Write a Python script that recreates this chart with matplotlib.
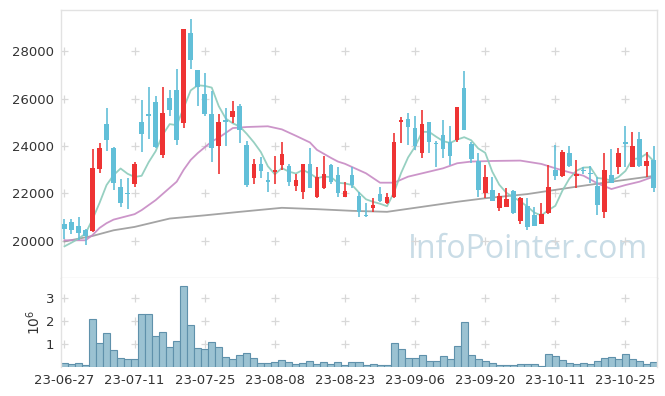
import matplotlib
matplotlib.use("Agg")
import matplotlib.pyplot as plt
import numpy as np
import pandas as pd

# ---------------- data ----------------
opens = [20734, 20790, 20621, 20451, 20423, 23048, 24938, 23922, 22272, 22032,
         22413, 25023, 25362, 25870, 23626, 26039, 26378, 24967, 28748, 27182,
         26209, 25362, 24021, 25108, 25221, 25700, 24050, 22667, 23245, 22568,
         22893, 23203, 23161, 22328, 22074, 23245, 21863, 22244, 23203, 22780,
         21863, 22780, 21890, 21114, 21397, 21975, 21609, 21834, 25009, 25150,
         24769, 23725, 25023, 24120, 24473, 24148, 24261, 26462, 24078, 23358,
         22032, 22145, 21397, 21439, 22102, 20847, 21467, 21086, 20734, 21185,
         22991, 22723, 23697, 22737, 22991, 22822, 22328, 21227, 22780, 23132,
         24162, 23132, 24304, 23161, 23414]
closes = [20494, 20466, 20339, 20212, 23076, 23922, 24233, 22427, 21608, 21961,
          23245, 24487, 25277, 23937, 25404, 25503, 24261, 28918, 27620, 26491,
          25362, 23908, 25009, 25009, 25489, 24684, 22356, 23245, 22963, 22498,
          22977, 23669, 22498, 22568, 23245, 22244, 22681, 22822, 22483, 22032,
          22102, 22356, 21228, 21058, 21510, 21693, 21834, 24163, 25108, 24797,
          23979, 24938, 24148, 24092, 23866, 23598, 25644, 24656, 23443, 22145,
          22681, 21693, 21891, 21764, 21185, 21820, 20593, 20621, 21157, 22286,
          22751, 23767, 23161, 22822, 22963, 22808, 21510, 22991, 22427, 23725,
          24092, 24007, 23161, 23372, 22215]
highs = [20945, 20917, 21016, 20522, 23866, 24120, 25602, 23950, 22610, 22639,
         23344, 25926, 26491, 26124, 26491, 26378, 27253, 28918, 29341, 27200,
         27055, 26307, 25362, 25602, 25912, 25771, 24191, 23443, 23556, 22921,
         23584, 24148, 23245, 22808, 23245, 23908, 23104, 23584, 23245, 23104,
         22497, 23132, 22074, 21580, 21792, 22286, 22004, 24543, 25221, 25390,
         25249, 25531, 25023, 24191, 25108, 24853, 25644, 27154, 24148, 23697,
         23189, 22709, 22032, 22215, 22145, 21863, 21820, 21439, 21580, 23203,
         24050, 23838, 23979, 23414, 23133, 23161, 22709, 23697, 23880, 23908,
         24825, 24585, 24571, 23767, 23979]
lows = [20099, 20282, 20056, 19817, 20395, 22850, 23810, 22145, 21411, 21340,
        22272, 23767, 24289, 23908, 23485, 25277, 24035, 24741, 27224, 25673,
        25249, 23316, 22808, 23979, 24967, 24120, 22286, 22385, 22639, 22074,
        22385, 22991, 22328, 22117, 21750, 22244, 21792, 22187, 22399, 21863,
        21863, 22215, 21016, 21016, 21228, 21651, 21552, 21792, 24120, 24050,
        23838, 23485, 23725, 23133, 23485, 23203, 24176, 24656, 23273, 21863,
        21792, 21693, 21256, 21439, 21157, 20705, 20480, 20621, 20705, 21157,
        22568, 22695, 23133, 22215, 22822, 22427, 21086, 20988, 22427, 22836,
        23132, 23132, 23132, 22709, 22074]
volumes_m = [0.16, 0.12, 0.16, 0.07, 2.07, 1.04, 1.48, 0.74, 0.39, 0.33,
             0.33, 2.29, 2.29, 1.35, 1.52, 0.86, 1.13, 3.52, 1.81, 0.83,
             0.78, 1.09, 0.86, 0.42, 0.33, 0.51, 0.61, 0.38, 0.16, 0.16,
             0.22, 0.30, 0.22, 0.13, 0.17, 0.26, 0.13, 0.22, 0.12, 0.22,
             0.09, 0.22, 0.22, 0.09, 0.13, 0.09, 0.09, 1.04, 0.78, 0.38,
             0.38, 0.51, 0.26, 0.26, 0.46, 0.35, 0.91, 1.96, 0.51, 0.35,
             0.26, 0.16, 0.09, 0.09, 0.09, 0.13, 0.13, 0.13, 0.04, 0.55,
             0.48, 0.30, 0.16, 0.13, 0.16, 0.13, 0.26, 0.39, 0.43, 0.35,
             0.55, 0.35, 0.26, 0.13, 0.22]
# closes before the first shown day (used for the 5-day average)
prev_closes = [19690, 19490, 19160, 20040]

# 20-day and 60-day averages (day index, value)
ma20_day = [0, 3, 4, 5, 6, 7, 10, 11, 13, 16, 17, 18, 19, 21, 22, 24, 26, 29,
            31, 33, 35, 36, 38, 39, 40, 43, 45, 47, 49, 52, 54, 56, 58, 61, 65,
            68, 70, 72, 74, 76, 78, 80, 82, 84]
ma20_val = [20030, 20030, 20250, 20550, 20750, 20900, 21130, 21300, 21721,
            22497, 23000, 23414, 23700, 24190, 24350, 24755, 24800, 24830,
            24700, 24430, 24150, 23838, 23500, 23344, 23250, 22850, 22455,
            22455, 22709, 22920, 23062, 23273, 23344, 23370, 23386, 23245,
            23062, 22893, 22751, 22427, 22187, 22356, 22497, 22709]
ma60_day = [0, 4, 7, 10, 15, 20, 25, 31, 36, 41, 46, 51, 56, 60, 66, 73, 78, 84]
ma60_val = [19980, 20212, 20451, 20593, 20945, 21080, 21228, 21397, 21340,
            21270, 21228, 21439, 21651, 21800, 21975, 22286, 22497, 22737]

tick_days = [0, 10, 20, 30, 40, 50, 60, 70, 80]
tick_labels = ['23-06-27', '23-07-11', '23-07-25', '23-08-08', '23-08-23',
               '23-09-06', '23-09-20', '23-10-11', '23-10-25']
price_ticks = [20000, 22000, 24000, 26000, 28000]
vol_ticks = [1, 2, 3]

# ---------------- styling ----------------
UP = '#ee3333'
DOWN = '#62bfd8'
MA5_C = '#8ccbbb'
MA20_C = '#c78ac4'
MA60_C = '#9a9a9a'
SPINE = '#e2e2e2'
CROSS = '#d8d8d8'
TXT = '#333333'

plt.rcParams['font.family'] = ['DejaVu Sans']

fig = plt.figure(figsize=(6.65, 3.96), dpi=100)
ax = fig.add_axes([0.0917, 0.298, 0.988 - 0.0917, 0.9747 - 0.298])
axv = fig.add_axes([0.0917, 0.0732, 0.988 - 0.0917, 0.298 - 0.0732], sharex=ax)

n = len(closes)
x = np.arange(n)
o = np.array(opens, float)
c = np.array(closes, float)
h = np.array(highs, float)
l = np.array(lows, float)
up = c >= o
colors = np.where(up, UP, DOWN)

# moving averages
allc = pd.Series(prev_closes + closes, dtype=float)
ma5 = allc.rolling(5).mean().to_numpy()[len(prev_closes):]

ax.plot(ma60_day, ma60_val, color=MA60_C, lw=1.3, zorder=2, alpha=0.9)
ax.plot(ma20_day, ma20_val, color=MA20_C, lw=1.3, zorder=2, alpha=0.9)
ax.plot(x, ma5, color=MA5_C, lw=1.3, zorder=2, alpha=0.9)

# candles
ax.vlines(x, l, h, colors=colors, lw=1.2, zorder=3)
body_lo = np.minimum(o, c)
body_h = np.maximum(np.abs(c - o), 40)
ax.bar(x, body_h, bottom=body_lo, width=0.66, color=colors, lw=0, zorder=4)

ax.set_xlim(-0.5, 84.5)
ax.set_ylim(18442, 29726)
ax.set_yticks(price_ticks)
ax.set_yticklabels([str(v) for v in price_ticks])

# cross-style grid marks
gx, gy = np.meshgrid(tick_days, price_ticks)
ax.scatter(gx.ravel(), gy.ravel(), marker='+', s=30, color=CROSS, lw=0.9, zorder=1)

# volume
axv.bar(x, volumes_m, width=1.0, color='#9bc2d2', edgecolor='#5f91ab', lw=0.8, zorder=2)
axv.set_ylim(0, 3.87)
axv.set_yticks(vol_ticks)
axv.set_yticklabels([str(v) for v in vol_ticks])
gx, gy = np.meshgrid(tick_days, vol_ticks)
axv.scatter(gx.ravel(), gy.ravel(), marker='+', s=30, color=CROSS, lw=0.9, zorder=1)
axv.set_ylabel(r'$10^6$', color=TXT, fontsize=10, labelpad=2)

axv.set_xticks(tick_days)
axv.set_xticklabels(tick_labels)
plt.setp(ax.get_xticklabels(), visible=False)

for a in (ax, axv):
    a.tick_params(length=0, labelsize=9.5, colors=TXT, pad=5)
    for s in a.spines.values():
        s.set_color(SPINE)
        s.set_linewidth(1.0)
axv.spines['bottom'].set_visible(False)
axv.spines['top'].set_visible(False)
ax.tick_params(axis='x', length=0)

# watermark
ax.text(0.985, 0.045, 'InfoPointer.com', transform=ax.transAxes, ha='right', va='bottom',
        fontsize=23, color='#c9dce6', family='Open Sans', zorder=0)

fig.savefig('out.png', dpi=100)
